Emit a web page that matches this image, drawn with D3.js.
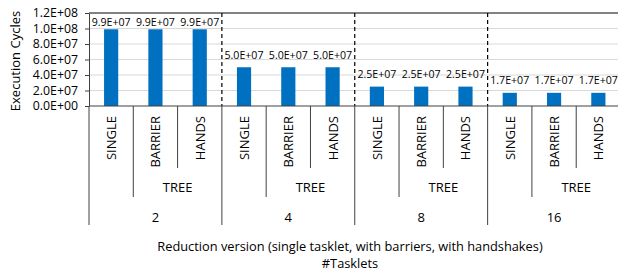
<!DOCTYPE html>
<html>
<head>
<meta charset="utf-8">
<script src="https://cdn.jsdelivr.net/npm/d3@7"></script>
<style>
  body { margin: 0; background: #fff; }
  text { font-family: "Open Sans", sans-serif; fill: #000; }
</style>
</head>
<body>
<div id="chart"></div>
<script>
var tasklets = ["2", "4", "8", "16"];
var versions = ["SINGLE", "BARRIER", "HANDS"];
var subGroup = "TREE";
var cycles = [9.9e7, 9.9e7, 9.9e7, 5.0e7, 5.0e7, 5.0e7, 2.5e7, 2.5e7, 2.5e7, 1.7e7, 1.7e7, 1.7e7];
var yTicks = [0, 2e7, 4e7, 6e7, 8e7, 1e8, 1.2e8];

var width = 618, height = 277;
var plotLeft = 89, plotRight = 620.5, plotTop = 13, plotBottom = 106;

var svg = d3.select("#chart")
    .append("svg")
    .attr("width", width)
    .attr("height", height);

// one entry per bar
var data = [];
tasklets.forEach(function(t, i) {
  versions.forEach(function(v, j) {
    data.push({ key: t + "|" + v, group: t, version: v, value: cycles[i * versions.length + j] });
  });
});

var x = d3.scaleBand()
    .domain(data.map(function(d) { return d.key; }))
    .range([plotLeft, plotRight])
    .paddingInner(0.68)
    .paddingOuter(0.34);

var y = d3.scaleLinear()
    .domain([0, 1.2e8])
    .range([plotBottom, plotTop]);

function sci(v) {
  var s = d3.format(".1e")(v).split("e");
  var exp = +s[1];
  return s[0] + "E" + (exp < 0 ? "-" : "+") + d3.format("02d")(Math.abs(exp));
}

// gridlines
svg.append("g").selectAll("line")
    .data(yTicks.slice(1))
  .enter().append("line")
    .attr("x1", plotLeft).attr("x2", plotRight)
    .attr("y1", function(d) { return y(d); })
    .attr("y2", function(d) { return y(d); })
    .attr("stroke", function(d) { return d === 1.2e8 ? "#595959" : "#d9d9d9"; })
    .attr("stroke-width", function(d) { return d === 1.2e8 ? 1.3 : 1; });

// y axis
var yAxis = svg.append("g")
    .attr("transform", "translate(" + plotLeft + ",0)")
    .call(d3.axisLeft(y).tickValues(yTicks).tickFormat(sci).tickSize(4).tickSizeOuter(0));
yAxis.select(".domain").attr("stroke", "#404040");
yAxis.selectAll(".tick line").attr("stroke", "#404040");
yAxis.selectAll(".tick text")
    .attr("x", -11)
    .style("font-family", "Open Sans")
    .style("font-size", "12.3px")
    .attr("fill", "#000");

// bars
svg.append("g").selectAll("rect")
    .data(data)
  .enter().append("rect")
    .attr("x", function(d) { return x(d.key); })
    .attr("y", function(d) { return y(d.value); })
    .attr("width", x.bandwidth())
    .attr("height", function(d) { return y(0) - y(d.value); })
    .attr("fill", "#0070c0");

// value labels (kept inside the plot area like Excel does)
svg.append("g").selectAll("text")
    .data(data)
  .enter().append("text")
    .attr("x", function(d) { return x(d.key) + x.bandwidth() / 2; })
    .attr("y", function(d) { return Math.max(y(d.value) - 8.5, plotTop + 13); })
    .attr("text-anchor", "middle")
    .style("font-size", "10.6px")
    .text(function(d) { return sci(d.value); });

// group separators (dashed) inside the plot
var step = x.step();
var groupW = step * versions.length;
svg.append("g").selectAll("line")
    .data(tasklets.slice(1))
  .enter().append("line")
    .attr("x1", function(d, i) { return plotLeft + groupW * (i + 1); })
    .attr("x2", function(d, i) { return plotLeft + groupW * (i + 1); })
    .attr("y1", plotTop).attr("y2", plotBottom)
    .attr("stroke", "#000")
    .attr("stroke-width", 1.2)
    .attr("stroke-dasharray", "4,3");

// x axis line
svg.append("line")
    .attr("x1", plotLeft).attr("x2", plotRight)
    .attr("y1", plotBottom).attr("y2", plotBottom)
    .attr("stroke", "#404040");

// multi-level category axis
var cat = svg.append("g").attr("stroke", "#404040");
d3.range(tasklets.length + 1).forEach(function(i) {
  var gx = plotLeft + groupW * i;
  cat.append("line").attr("x1", gx).attr("x2", gx).attr("y1", plotBottom).attr("y2", 225);
  if (i < tasklets.length) {
    cat.append("line").attr("x1", gx + step).attr("x2", gx + step).attr("y1", plotBottom).attr("y2", 197);
    cat.append("line").attr("x1", gx + step * 2).attr("x2", gx + step * 2).attr("y1", plotBottom).attr("y2", 168);
  }
});

svg.append("g").selectAll("text")
    .data(data)
  .enter().append("text")
    .attr("transform", function(d) {
      return "translate(" + (x(d.key) + x.bandwidth() / 2 + 5) + ",116) rotate(-90)";
    })
    .attr("text-anchor", "end")
    .style("font-size", "13px")
    .text(function(d) { return d.version; });

svg.append("g").selectAll("text")
    .data(tasklets)
  .enter().append("text")
    .attr("x", function(d, i) { return plotLeft + groupW * i + step * 2; })
    .attr("y", 192)
    .attr("text-anchor", "middle")
    .style("font-size", "13px")
    .text(subGroup);

svg.append("g").selectAll("text")
    .data(tasklets)
  .enter().append("text")
    .attr("x", function(d, i) { return plotLeft + groupW * (i + 0.5); })
    .attr("y", 222)
    .attr("text-anchor", "middle")
    .style("font-size", "13px")
    .text(function(d) { return d; });

// axis titles
svg.append("text")
    .attr("x", 350).attr("y", 251)
    .attr("text-anchor", "middle")
    .style("font-size", "12.8px")
    .text("Reduction version (single tasklet, with barriers, with handshakes)");
svg.append("text")
    .attr("x", 350).attr("y", 268)
    .attr("text-anchor", "middle")
    .style("font-size", "12.8px")
    .text("#Tasklets");

svg.append("text")
    .attr("transform", "translate(20,61) rotate(-90)")
    .attr("text-anchor", "middle")
    .style("font-size", "13px")
    .text("Execution Cycles");
</script>
</body>
</html>
